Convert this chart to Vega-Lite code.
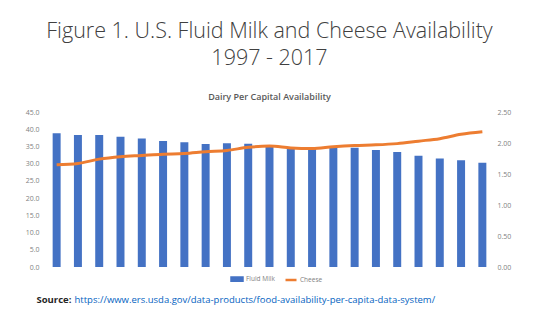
{
  "$schema": "https://vega.github.io/schema/vega-lite/v6.json",
  "autosize": "none",
  "width": 447,
  "height": 155,
  "padding": {"left": 46, "top": 112, "right": 42, "bottom": 55},
  "background": "white",
  "title": {
    "text": ["Figure 1. U.S. Fluid Milk and Cheese Availability", "1997 - 2017"],
    "subtitle": "Dairy Per Capital Availability",
    "anchor": "middle",
    "font": "Open Sans",
    "fontSize": 21.5,
    "fontWeight": 300,
    "color": "#404040",
    "lineHeight": 27,
    "offset": 6,
    "subtitleFont": "Open Sans",
    "subtitleFontSize": 9,
    "subtitleFontWeight": 600,
    "subtitleColor": "#595959",
    "subtitlePadding": 24
  },
  "data": {
    "values": [
      {"year": "1997", "milk": 38.8, "cheese": 1.65},
      {"year": "1998", "milk": 38.3, "cheese": 1.67},
      {"year": "1999", "milk": 38.3, "cheese": 1.74},
      {"year": "2000", "milk": 37.8, "cheese": 1.78},
      {"year": "2001", "milk": 37.3, "cheese": 1.80},
      {"year": "2002", "milk": 36.6, "cheese": 1.82},
      {"year": "2003", "milk": 36.2, "cheese": 1.83},
      {"year": "2004", "milk": 35.7, "cheese": 1.86},
      {"year": "2005", "milk": 35.9, "cheese": 1.88},
      {"year": "2006", "milk": 35.8, "cheese": 1.93},
      {"year": "2007", "milk": 35.1, "cheese": 1.95},
      {"year": "2008", "milk": 34.6, "cheese": 1.92},
      {"year": "2009", "milk": 34.6, "cheese": 1.91},
      {"year": "2010", "milk": 34.9, "cheese": 1.94},
      {"year": "2011", "milk": 34.6, "cheese": 1.96},
      {"year": "2012", "milk": 34.0, "cheese": 1.97},
      {"year": "2013", "milk": 33.4, "cheese": 1.99},
      {"year": "2014", "milk": 32.3, "cheese": 2.03},
      {"year": "2015", "milk": 31.5, "cheese": 2.07},
      {"year": "2016", "milk": 31.0, "cheese": 2.14},
      {"year": "2017", "milk": 30.3, "cheese": 2.18}
    ]
  },
  "encoding": {
    "x": {
      "field": "year",
      "type": "ordinal",
      "scale": {"paddingInner": 0.625, "paddingOuter": 0.3125},
      "axis": {
        "labels": false,
        "ticks": false,
        "domain": false,
        "title": "https://www.ers.usda.gov/data-products/food-availability-per-capita-data-system/",
        "titleFont": "Open Sans",
        "titleFontSize": 9.5,
        "titleFontWeight": 400,
        "titleColor": "#0563C1",
        "titleAlign": "left",
        "titleBaseline": "middle",
        "titleX": 28,
        "titleY": 32
      }
    }
  },
  "layer": [
    {
      "mark": {"type": "bar", "color": "#4472C4"},
      "encoding": {
        "y": {
          "field": "milk",
          "type": "quantitative",
          "scale": {"domain": [0, 45], "nice": false},
          "axis": {
            "orient": "left",
            "values": [0, 5, 10, 15, 20, 25, 30, 35, 40, 45],
            "format": ".1f",
            "labelPadding": 7,
            "title": "Source:",
            "titleAngle": 0,
            "titleFont": "Open Sans",
            "titleFontSize": 9.5,
            "titleFontWeight": 700,
            "titleColor": "#262626",
            "titleAlign": "left",
            "titleBaseline": "middle",
            "titleX": -10,
            "titleY": 187
          }
        },
        "color": {
          "datum": "Fluid Milk",
          "type": "nominal",
          "scale": {"domain": ["Fluid Milk", "Cheese"], "range": ["#4472C4", "#ED7D31"]},
          "legend": {
            "title": null,
            "orient": "none",
            "legendX": 184,
            "legendY": 160,
            "direction": "horizontal",
            "symbolSize": 121,
            "labelFont": "Open Sans",
            "labelFontSize": 6.5,
            "labelColor": "#7f7f7f",
            "labelOffset": 2,
            "columnPadding": 5,
            "encode": {
              "symbols": {
                "update": {
                  "shape": [
                    {"test": "datum.value === 'Cheese'", "value": "M-1,0H1"},
                    {"value": "M-1,-0.3H1V0.3H-1Z"}
                  ],
                  "fill": [
                    {"test": "datum.value === 'Cheese'", "value": "transparent"},
                    {"value": "#4472C4"}
                  ],
                  "stroke": [
                    {"test": "datum.value === 'Cheese'", "value": "#ED7D31"},
                    {"value": "transparent"}
                  ],
                  "strokeWidth": {"value": 2.5},
                  "opacity": {"value": 1}
                }
              }
            }
          }
        }
      }
    },
    {
      "mark": {"type": "line", "color": "#ED7D31", "strokeWidth": 3, "interpolate": "monotone"},
      "encoding": {
        "y": {
          "field": "cheese",
          "type": "quantitative",
          "scale": {"domain": [0, 2.5], "nice": false},
          "axis": {
            "orient": "right",
            "values": [0, 0.5, 1, 1.5, 2, 2.5],
            "format": ".2f",
            "labelPadding": 4,
            "title": null
          }
        },
        "color": {"datum": "Cheese", "type": "nominal"}
      }
    }
  ],
  "resolve": {"scale": {"y": "independent"}},
  "config": {
    "view": {"stroke": null},
    "axis": {
      "grid": false,
      "domain": false,
      "ticks": false,
      "labelFont": "Open Sans",
      "labelFontSize": 7,
      "labelColor": "#7f7f7f"
    }
  }
}
